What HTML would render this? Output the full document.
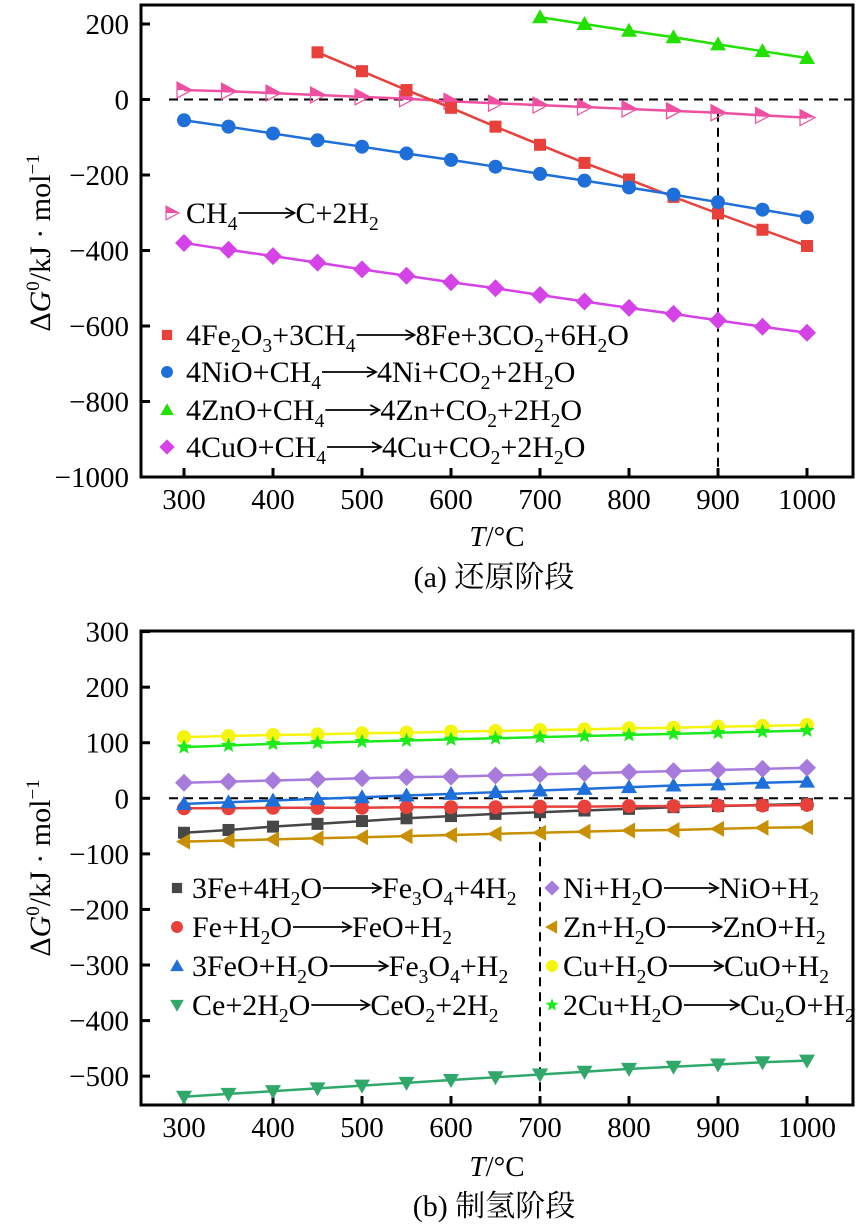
<!DOCTYPE html>
<html><head><meta charset="utf-8"><style>
body{margin:0;background:#fff}
svg{display:block;font-family:"Liberation Serif","Noto Serif CJK SC",serif}
</style></head><body>
<svg id="c" width="862" height="1228" viewBox="0 0 862 1228">
<defs><marker id="ah" markerWidth="12" markerHeight="12" refX="10" refY="6" orient="auto" markerUnits="userSpaceOnUse"><path d="M1,1 L10,6 L1,11" fill="none" stroke="#000" stroke-width="1.8"/></marker></defs>
</svg>
<script>
const temps=[300,350,400,450,500,550,600,650,700,750,800,850,900,950,1000];
// chart a
const ch4=[25,22,17,12,7,2,-5,-10,-15,-20,-25,-30,-35,-42,-48];
const fe2o3=[null,null,null,125,75,25,-22,-72,-120,-168,-212,-258,-302,-345,-388];
const nio=[-55,-72,-90,-108,-125,-143,-160,-178,-197,-215,-233,-252,-272,-292,-312];
const zno=[null,null,null,null,null,null,null,null,218,200,182,165,146,128,110];
const cuo=[-380,-398,-415,-432,-450,-467,-484,-500,-518,-535,-552,-568,-585,-602,-618];
const ticksA=[200,0,-200,-400,-600,-800,-1000];
const xticks=[300,400,500,600,700,800,900,1000];
// chart b
const fe3o4=[-62,-57,-51,-46,-41,-36,-32,-28,-25,-22,-19,-16,-14,-12,-10];
const feo=[-18,-18,-17,-17,-17,-16,-16,-16,-15,-15,-14,-14,-13,-13,-12];
const feoH=[-10,-7,-4,-1,2,5,8,11,14,17,20,23,25,28,30];
const ce=[-537,-532,-527,-522,-517,-512,-507,-502,-497,-492,-487,-483,-479,-475,-472];
const ni=[28,30,32,34,36,38,39,41,43,45,47,49,51,53,55];
const zn=[-78,-76,-74,-72,-70,-68,-66,-64,-62,-60,-58,-57,-55,-53,-52];
const cu=[110,112,114,115,117,118,120,121,123,124,126,127,129,130,132];
const cu2o=[92,95,98,100,102,104,106,108,110,112,114,116,118,120,122];
const ticksB=[300,200,100,0,-100,-200,-300,-400,-500];

const NS="http://www.w3.org/2000/svg";
const svg=document.getElementById('c');
function mk(tag,attrs,parent){const e=document.createElementNS(NS,tag);for(const k in attrs)e.setAttribute(k,attrs[k]);(parent||svg).appendChild(e);return e;}
const X=v=>184+(v-300)*0.89;
function marker(g,shape,x,y,col,s){
  s=s||1;let e;
  if(shape==='sq')e=mk('rect',{x:x-6*s,y:y-6*s,width:12*s,height:12*s,fill:col},g);
  else if(shape==='ci')e=mk('circle',{cx:x,cy:y,r:7*s,fill:col},g);
  else if(shape==='tu')e=mk('polygon',{points:`${x},${y-8*s} ${x+8*s},${y+6*s} ${x-8*s},${y+6*s}`,fill:col},g);
  else if(shape==='td')e=mk('polygon',{points:`${x},${y+8*s} ${x+8*s},${y-6*s} ${x-8*s},${y-6*s}`,fill:col},g);
  else if(shape==='tl')e=mk('polygon',{points:`${x-8*s},${y} ${x+6*s},${y-8*s} ${x+6*s},${y+8*s}`,fill:col},g);
  else if(shape==='di')e=mk('polygon',{points:`${x},${y-9*s} ${x+9*s},${y} ${x},${y+9*s} ${x-9*s},${y}`,fill:col},g);
  else if(shape==='st'){let p=[];for(let i=0;i<10;i++){const r=(i%2?3.5:8)*s,a=-Math.PI/2+i*Math.PI/5;p.push((x+r*Math.cos(a)).toFixed(1)+','+(y+r*Math.sin(a)).toFixed(1));}e=mk('polygon',{points:p.join(' '),fill:col},g);}
  else if(shape==='tr'){
    e=mk('g',{},g);
    mk('polygon',{points:`${x-7*s},${y-8*s} ${x+8*s},${y} ${x-7*s},${y}`,fill:col},e);
    mk('polygon',{points:`${x-7*s},${y-8*s} ${x+8*s},${y} ${x-7*s},${y+8*s}`,fill:'none',stroke:col,'stroke-width':1.2},e);
  }
  
  
}
function series(name,vals,Y,col,shape){
  const g=mk('g',{});
  
  
  let pts=[];temps.forEach((t,i)=>{if(vals[i]!==null)pts.push([X(t),Y(vals[i])]);});
  mk('polyline',{points:pts.map(p=>p.join(',')).join(' '),fill:'none',stroke:col,'stroke-width':2.5},g);
  pts.forEach(p=>marker(g,shape,p[0],p[1],col));
}
function axes(top,bot,Y,ticks,dashX,dashBottomVal,name){
  const g=mk('g',{});
  
  
  mk('rect',{x:141,y:top,width:712,height:bot-top,fill:'none',stroke:'#000','stroke-width':3},g);
  ticks.forEach(v=>{const y=Y(v);
    mk('line',{x1:141,x2:150,y1:y,y2:y,stroke:'#000','stroke-width':3},g);
    const t=mk('text',{x:129,y:y+10,'text-anchor':'end','font-size':29},g);t.textContent=v<0?'\u2212'+(-v):v;
    });
  xticks.forEach(v=>{const x=X(v);
    mk('line',{x1:x,x2:x,y1:bot,y2:bot-9,stroke:'#000','stroke-width':3},g);
    const t=mk('text',{x:x,y:bot+32,'text-anchor':'middle','font-size':29},g);t.textContent=v;
    });
  mk('line',{x1:X(300)-15,x2:853,y1:Y(0),y2:Y(0),stroke:'#000','stroke-width':2,'stroke-dasharray':'9,6'},g);
  mk('line',{x1:X(dashX),x2:X(dashX),y1:Y(dashBottomVal),y2:bot,stroke:'#000','stroke-width':2,'stroke-dasharray':'9,6'},g);
}
function chemText(parent,x,y,parts,fs){
  const t=mk('text',{x:x,y:y,'font-size':fs},parent);
  parts.split(/(_\d)/).forEach(p=>{
    if(!p)return;
    if(p[0]==='_'){const s=mk('tspan',{'font-size':fs*0.65,dy:7},t);s.textContent=p.slice(1);const b=mk('tspan',{dy:-7},t);b.textContent='\u200b';}
    else{const s=mk('tspan',{},t);s.textContent=p;}
  });
  return t;
}
function legend(name,x,tx,y,shape,col,left,right,arrowLen,fs){
  const g=mk('g',{});
  
  
  marker(g,shape,x,y-10,col,0.85);
  const t1=chemText(g,tx,y,left,fs);
  const w=t1.getComputedTextLength();
  const ax=tx+w+1;
  mk('line',{x1:ax,x2:ax+arrowLen,y1:y-10,y2:y-10,stroke:'#000','stroke-width':1.8,'marker-end':'url(#ah)'},g);
  chemText(g,ax+arrowLen+1,y,right,fs);
}
// ---- chart a
const YA=v=>99.5-v*0.3775;
axes(5,477,YA,ticksA,900,-35,'axes-a');
series('series-ch4',ch4,YA,'#ee4fa0','tr');
series('series-fe2o3',fe2o3,YA,'#e8413c','sq');
series('series-nio',nio,YA,'#1e6fd9','ci');
series('series-zno',zno,YA,'#22e000','tu');
series('series-cuo',cuo,YA,'#d442e8','di');
// ---- chart b
const YB=v=>798.3-v*0.5557;
axes(631,1105,YB,ticksB,700,-25,'axes-b');
series('series-fe3o4',fe3o4,YB,'#474747','sq');
series('series-feo',feo,YB,'#e8413c','ci');
series('series-feo-h2o',feoH,YB,'#1e6fd9','tu');
series('series-ce',ce,YB,'#2fa86a','td');
series('series-ni',ni,YB,'#a77bdc','di');
series('series-zn',zn,YB,'#c89000','tl');
series('series-cu',cu,YB,'#f4f40c','ci');
series('series-cu2o',cu2o,YB,'#1cea1c','st');
// legends
const FS=30;
legend('legend-entry-ch4',172,186,223,'tr','#ee4fa0','CH_4','C+2H_2',56,FS);
legend('legend-entry-fe2o3',167,186,345,'sq','#e8413c','4Fe_2O_3+3CH_4','8Fe+3CO_2+6H_2O',58,FS);
legend('legend-entry-nio',167,186,382,'ci','#1e6fd9','4NiO+CH_4','4Ni+CO_2+2H_2O',54,FS);
legend('legend-entry-zno',167,186,420,'tu','#22e000','4ZnO+CH_4','4Zn+CO_2+2H_2O',54,FS);
legend('legend-entry-cuo',167,186,457,'di','#d442e8','4CuO+CH_4','4Cu+CO_2+2H_2O',54,FS);
legend('legend-entry-fe3o4',177,192,898,'sq','#474747','3Fe+4H_2O','Fe_3O_4+4H_2',58,FS);
legend('legend-entry-feo',177,192,937,'ci','#e8413c','Fe+H_2O','FeO+H_2',58,FS);
legend('legend-entry-feo-h2o',177,192,976,'tu','#1e6fd9','3FeO+H_2O','Fe_3O_4+H_2',58,FS);
legend('legend-entry-ce',177,192,1015,'td','#2fa86a','Ce+2H_2O','CeO_2+2H_2',58,FS);
legend('legend-entry-ni',552,563,898,'di','#a77bdc','Ni+H_2O','NiO+H_2',54,FS);
legend('legend-entry-zn',552,563,937,'tl','#c89000','Zn+H_2O','ZnO+H_2',54,FS);
legend('legend-entry-cu',552,563,976,'ci','#f4f40c','Cu+H_2O','CuO+H_2',54,FS);
legend('legend-entry-cu2o',552,563,1015,'st','#1cea1c','2Cu+H_2O','Cu_2O+H_2',55,FS);
</script>
<svg width="862" height="1228" style="position:absolute;left:0;top:0">
<style>text{font-family:"Liberation Serif","Noto Serif CJK SC",serif}</style>
<g><text transform="translate(50,243) rotate(-90)" text-anchor="middle" font-size="30">Δ<tspan font-style="italic">G</tspan><tspan font-size="19" dy="-11">0</tspan><tspan dy="11">/kJ · mol</tspan><tspan font-size="19" dy="-11">−1</tspan></text></g>
<text x="497" y="546" text-anchor="middle" font-size="29"><tspan font-style="italic">T</tspan>/°C</text>
<text x="494" y="587" text-anchor="middle" font-size="30">(a) 还原阶段</text>
<g><text transform="translate(50,868) rotate(-90)" text-anchor="middle" font-size="30">Δ<tspan font-style="italic">G</tspan><tspan font-size="19" dy="-11">0</tspan><tspan dy="11">/kJ · mol</tspan><tspan font-size="19" dy="-11">−1</tspan></text></g>
<text x="497" y="1176" text-anchor="middle" font-size="29"><tspan font-style="italic">T</tspan>/°C</text>
<text x="494" y="1216" text-anchor="middle" font-size="30">(b) 制氢阶段</text>
</svg>
</body></html>
